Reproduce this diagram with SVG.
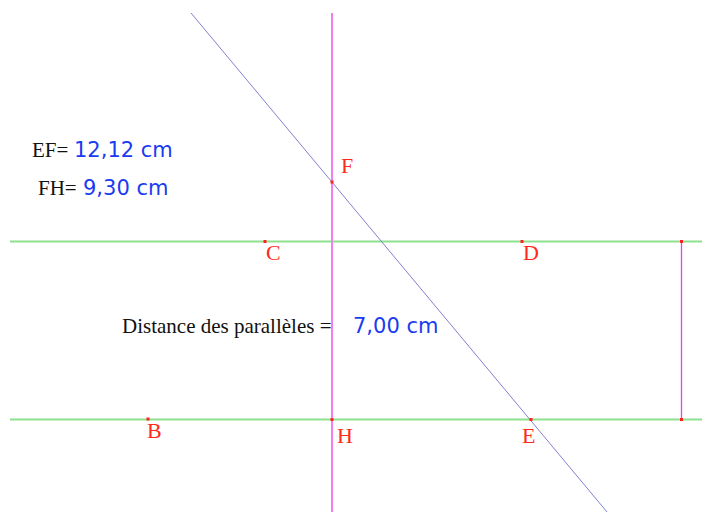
<svg xmlns="http://www.w3.org/2000/svg" width="702" height="512" viewBox="0 0 702 512">
<style>
.par{stroke:#8de08d;stroke-width:2;fill:none}
.perp{stroke:#f080f0;stroke-width:2;fill:none}
.thin{stroke:#e040f0;stroke-width:1.3;fill:none}
.sec{stroke:#8080d0;stroke-width:1;fill:none}
.pt{fill:#ff2020}
.lbl{font-family:"Liberation Serif",serif;font-size:22px;fill:#ff2a1a}
.blk{font-family:"Liberation Serif",serif;font-size:21px;fill:#111}
.val{font-family:"DejaVu Sans",Verdana,sans-serif;font-size:21px;fill:#1a3cf0}
</style>
<rect width="702" height="512" fill="#fff"/>
<g id="connectors">
<line class="par" x1="10" y1="241.5" x2="702" y2="241.5"/>
<line class="par" x1="10" y1="419.5" x2="702" y2="419.5"/>
<line class="perp" x1="332" y1="13" x2="332" y2="512"/>
<line class="sec" x1="191" y1="13" x2="607" y2="512"/>
<line class="thin" x1="681.5" y1="241.5" x2="681.5" y2="419.5"/>
</g>
<g id="F"><rect class="pt" x="330.5" y="180.5" width="3" height="3"/><text class="lbl" x="341" y="173">F</text></g>
<g id="C"><rect class="pt" x="263.5" y="240" width="3" height="3"/><text class="lbl" x="266" y="260">C</text></g>
<g id="D"><rect class="pt" x="520.5" y="240" width="3" height="3"/><text class="lbl" x="523" y="260">D</text></g>
<g id="B"><rect class="pt" x="146.5" y="417.5" width="3" height="3"/><text class="lbl" x="147" y="438">B</text></g>
<g id="H"><rect class="pt" x="330.5" y="418" width="3" height="3"/><text class="lbl" x="337" y="443">H</text></g>
<g id="E"><rect class="pt" x="529.5" y="418" width="3" height="3"/><text class="lbl" x="522" y="443">E</text></g>
<g id="P1"><rect class="pt" x="680" y="240" width="3" height="3"/></g>
<g id="P2"><rect class="pt" x="680" y="418" width="3" height="3"/></g>
<g id="measures">
<text class="blk" x="32" y="157">EF=</text><text class="val" x="74" y="157">12,12 cm</text>
<text class="blk" x="38" y="195">FH=</text><text class="val" x="83" y="195">9,30 cm</text>
<text class="blk" x="122" y="333">Distance des parallèles =</text><text class="val" x="353" y="333">7,00 cm</text>
</g>
</svg>
